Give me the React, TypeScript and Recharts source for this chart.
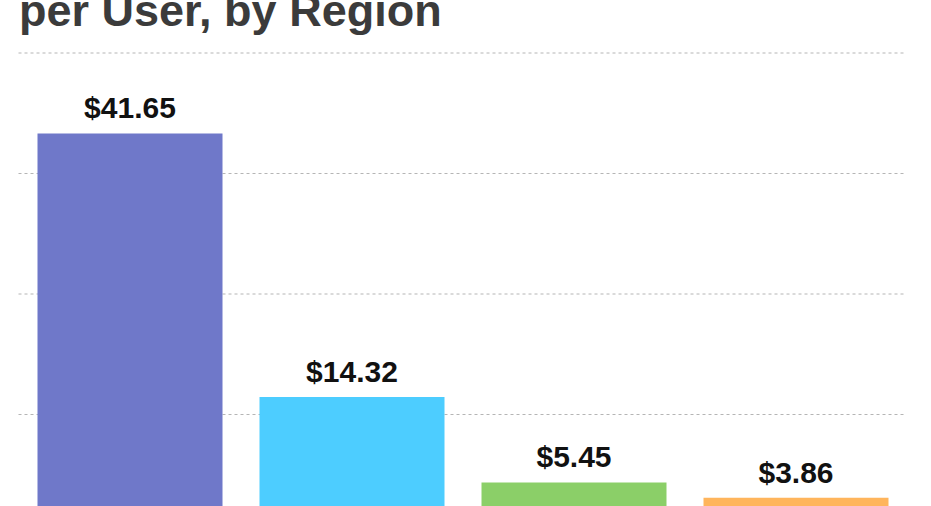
import { BarChart, Bar, XAxis, YAxis, CartesianGrid, LabelList, Cell } from "recharts";

const regions = ["US & Canada", "Europe", "Asia-Pacific", "Rest of World"];
const arpu = [41.65, 14.32, 5.45, 3.86];
const barColors = ["#6f78c9", "#4dcdff", "#8bcf68", "#ffb55c"];
const yTicks = [0, 12.5, 25, 37.5, 50];

const data = regions.map((region, i) => ({ region, arpu: arpu[i] }));

export default function App() {
  return (
    <div
      style={{
        position: "fixed",
        top: 0,
        left: 0,
        width: 931,
        height: 506,
        overflow: "hidden",
        background: "#fff",
        fontFamily: "'Liberation Sans', Arial, sans-serif",
      }}
    >
      <div
        style={{
          position: "absolute",
          left: 19,
          top: -15,
          fontSize: 45,
          fontWeight: "bold",
          color: "#3b3b3b",
          whiteSpace: "nowrap",
        }}
      >
        per User, by Region
      </div>
      <div style={{ position: "absolute", top: 0, left: 0 }}>
        <BarChart
          width={931}
          height={580}
          data={data}
          margin={{ top: 53, right: 24.5, bottom: 45, left: 18.5 }}
        >
          <CartesianGrid vertical={false} stroke="#b5b5b5" strokeDasharray="3 3" />
          <XAxis dataKey="region" hide />
          <YAxis hide domain={[0, 50]} ticks={yTicks} />
          <Bar dataKey="arpu" barSize={185} isAnimationActive={false}>
            {data.map((d, i) => (
              <Cell key={d.region} fill={barColors[i]} />
            ))}
            <LabelList
              dataKey="arpu"
              position="top"
              offset={15}
              formatter={(v: any) => `$${Number(v).toFixed(2)}`}
              style={{
                fontSize: 30,
                fontWeight: "bold",
                fill: "#111111",
                fontFamily: "'Liberation Sans', Arial, sans-serif",
              }}
            />
          </Bar>
        </BarChart>
      </div>
    </div>
  );
}
